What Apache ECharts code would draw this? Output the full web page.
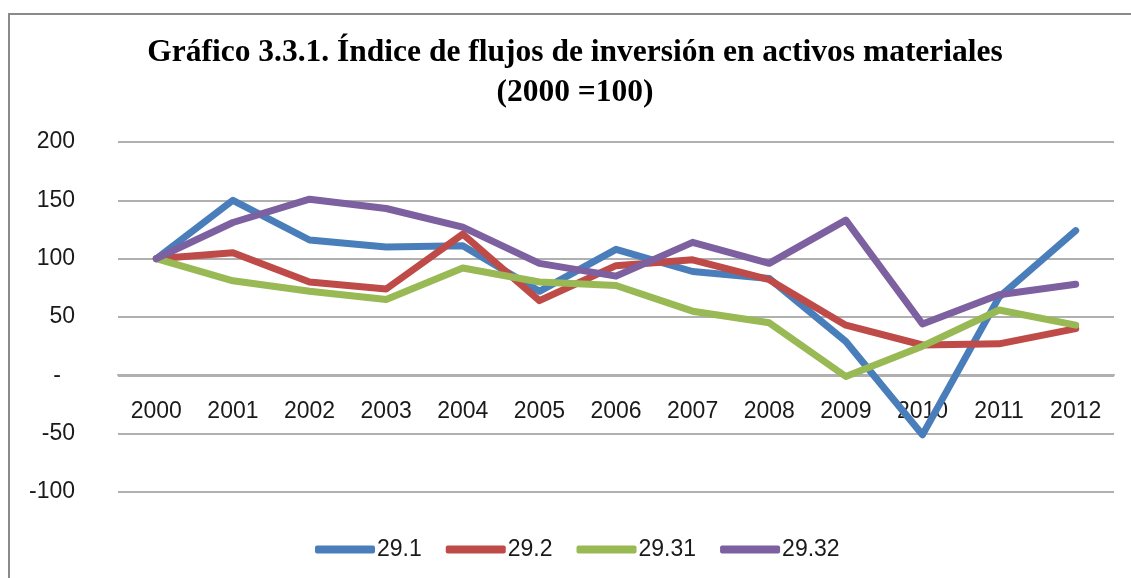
<!DOCTYPE html>
<html>
<head>
<meta charset="utf-8">
<script src="https://cdn.jsdelivr.net/npm/echarts@6/dist/echarts.min.js"></script>
<style>
  html, body { margin: 0; padding: 0; background: #fff; }
  #chart { width: 1131px; height: 578px; }
</style>
</head>
<body>
<div id="chart"></div>
<script>
// años del eje X
const years = ['2000','2001','2002','2003','2004','2005','2006','2007','2008','2009','2010','2011','2012'];

// índices (2000 = 100)
const s291  = [100, 150, 116, 110, 111, 72, 108, 89, 83, 29, -51, 67, 124];
const s292  = [100, 105, 80, 74, 121, 64, 94, 99, 82, 43, 26, 27, 40];
const s2931 = [100, 81, 72, 65, 92, 80, 77, 55, 45, -1, 25, 56, 43];
const s2932 = [100, 131, 151, 143, 127, 96, 85, 114, 96, 133, 44, 69, 78];

const seriesNames = ['29.1', '29.2', '29.31', '29.32'];
const colors = ['#4A7EBB', '#BE4B48', '#98B954', '#7D60A0'];

const labelFont = 'Liberation Sans';

let chart = echarts.init(document.getElementById('chart'), null, { renderer: 'canvas' });

/**
 * genera la serie de línea
 */
const makeLine = (name, data, i) => ({
    name: name,
    type: 'line',
    data: data,
    symbol: 'none',
    smooth: false,
    lineStyle: { width: 7, color: colors[i], cap: 'round', join: 'round' },
    itemStyle: { color: colors[i] }
});

chart.setOption({
    animation: false,
    title: {
        text: 'Gráfico 3.3.1. Índice de flujos de inversión en activos materiales\n(2000 =100)',
        left: 575,
        textAlign: 'center',
        top: 33,
        padding: 0,
        textStyle: {
            fontFamily: 'Liberation Serif',
            fontWeight: 'bold',
            fontSize: 31.5,
            lineHeight: 40,
            color: '#000'
        }
    },
    graphic: [{
        type: 'rect',
        shape: { x: 9, y: 14, width: 1300, height: 700 },
        style: { fill: 'none', stroke: '#8a8a8a', lineWidth: 2 },
        silent: true
    }],
    legend: {
        bottom: 17,
        left: 315,
        padding: 0,
        icon: 'roundRect',
        itemWidth: 60,
        itemHeight: 8,
        itemGap: 24,
        textStyle: { fontFamily: labelFont, fontSize: 23, color: '#1a1a1a', padding: [0, 0, 0, -3] },
        data: seriesNames
    },
    grid: { left: 118, right: 17, top: 142, bottom: 86, containLabel: false },
    xAxis: {
        type: 'category',
        data: years,
        boundaryGap: true,
        position: 'bottom',
        offset: -117,
        axisLine: { show: true, onZero: false, lineStyle: { color: '#b0b0b0', width: 2 } },
        axisTick: { show: false },
        axisLabel: { margin: 25, fontFamily: labelFont, fontSize: 23, color: '#1a1a1a' }
    },
    yAxis: {
        type: 'value',
        min: -100,
        max: 200,
        interval: 50,
        axisLine: { show: false },
        axisTick: { show: false },
        splitLine: { lineStyle: { color: '#b0b0b0', width: 2 } },
        axisLabel: {
            margin: 43,
            fontFamily: labelFont,
            fontSize: 23,
            color: '#1a1a1a',
            formatter: v => (v === 0 ? '{z|-}' : String(v)),
            rich: { z: { fontFamily: labelFont, fontSize: 23, color: '#1a1a1a', padding: [0, 14, 0, 0] } }
        }
    },
    series: [
        makeLine(seriesNames[0], s291, 0),
        makeLine(seriesNames[1], s292, 1),
        makeLine(seriesNames[2], s2931, 2),
        makeLine(seriesNames[3], s2932, 3)
    ]
});
</script>
</body>
</html>
